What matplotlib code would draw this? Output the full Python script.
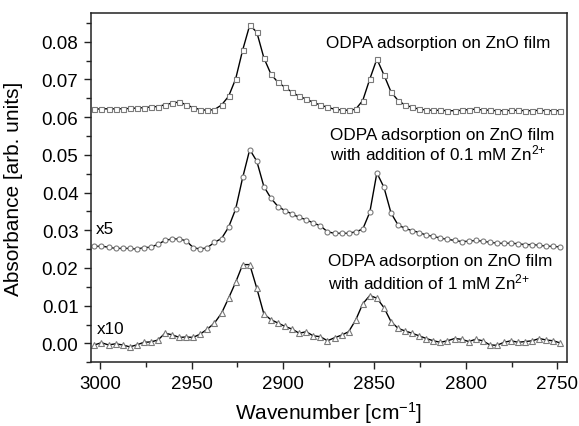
import numpy as np
import matplotlib
matplotlib.use("Agg")
import matplotlib.pyplot as plt
from matplotlib.ticker import MultipleLocator, FormatStrFormatter

plt.rcParams["font.family"] = ["Liberation Sans", "DejaVu Sans"]
plt.rcParams["mathtext.fontset"] = "custom"
plt.rcParams["mathtext.rm"] = "Liberation Sans"
plt.rcParams["mathtext.default"] = "regular"

# wavenumber grid of the plotted points (cm-1)
wavenumber = 3003.1 - 3.86 * np.arange(67)

# ODPA on ZnO film
film = [0.0621, 0.0622, 0.0622, 0.0622, 0.0622, 0.0623, 0.0624, 0.0625, 0.0627, 0.0628,
        0.0633, 0.0637, 0.0640, 0.0633, 0.0625, 0.0620, 0.0618, 0.0620, 0.0632, 0.0655,
        0.0701, 0.0778, 0.0844, 0.0825, 0.0757, 0.0714, 0.0692, 0.0679, 0.0666, 0.0655,
        0.0648, 0.0639, 0.0632, 0.0626, 0.0621, 0.0619, 0.0618, 0.0621, 0.0644, 0.0701,
        0.0754, 0.0712, 0.0667, 0.0644, 0.0632, 0.0626, 0.0621, 0.0619, 0.0618, 0.0618,
        0.0617, 0.0617, 0.0618, 0.0620, 0.0621, 0.0619, 0.0618, 0.0617, 0.0617, 0.0618,
        0.0618, 0.0617, 0.0617, 0.0618, 0.0617, 0.0617, 0.0617]

# with 0.1 mM Zn2+ (x5)
zn_01 = [0.0257, 0.0258, 0.0255, 0.0252, 0.0252, 0.0252, 0.0250, 0.0254, 0.0255, 0.0263,
         0.0273, 0.0277, 0.0277, 0.0272, 0.0254, 0.0250, 0.0254, 0.0268, 0.0278, 0.0308,
         0.0356, 0.0440, 0.0514, 0.0483, 0.0416, 0.0385, 0.0363, 0.0352, 0.0343, 0.0334,
         0.0328, 0.0319, 0.0312, 0.0296, 0.0292, 0.0292, 0.0292, 0.0296, 0.0303, 0.0348,
         0.0452, 0.0414, 0.0346, 0.0314, 0.0305, 0.0299, 0.0294, 0.0287, 0.0284, 0.0279,
         0.0276, 0.0273, 0.0270, 0.0271, 0.0273, 0.0271, 0.0268, 0.0266, 0.0265, 0.0266,
         0.0264, 0.0262, 0.0262, 0.0260, 0.0258, 0.0257, 0.0256]

# with 1 mM Zn2+ (x10)
zn_1 = [-0.0004, 0.0002, -0.0004, -0.0001, -0.0004, -0.0009, -0.0004, 0.0003, 0.0004, 0.0009,
        0.0027, 0.0023, 0.0016, 0.0017, 0.0016, 0.0025, 0.0038, 0.0054, 0.0080, 0.0120,
        0.0162, 0.0209, 0.0209, 0.0146, 0.0078, 0.0063, 0.0054, 0.0045, 0.0038, 0.0027,
        0.0031, 0.0020, 0.0018, 0.0007, 0.0015, 0.0022, 0.0031, 0.0062, 0.0105, 0.0127,
        0.0120, 0.0095, 0.0058, 0.0040, 0.0033, 0.0027, 0.0020, 0.0013, 0.0007, 0.0003,
        0.0007, 0.0013, 0.0011, 0.0005, 0.0011, 0.0007, -0.0004, -0.0005, 0.0003, 0.0007,
        0.0003, 0.0005, 0.0007, 0.0013, 0.0009, 0.0007, 0.0001]

series = [(film, "s"), (zn_01, "o"), (zn_1, "^")]

fig = plt.figure(figsize=(5.79, 4.27), dpi=100)
ax = fig.add_axes([0.157, 0.1492, 0.8216, 0.818])

for values, marker in series:
    ax.plot(wavenumber, values, color="black", lw=1.0, marker=marker,
            ms=3.6 if marker != "^" else 4.3, mfc="white", mec="#7a7a7a", mew=0.8)

ax.set_xlim(3005, 2745)
ax.set_ylim(-0.005, 0.0876)
ax.xaxis.set_major_locator(MultipleLocator(50))
ax.xaxis.set_minor_locator(MultipleLocator(25))
ax.yaxis.set_major_locator(MultipleLocator(0.01))
ax.yaxis.set_minor_locator(MultipleLocator(0.005))
ax.yaxis.set_major_formatter(FormatStrFormatter("%.2f"))
ax.tick_params(which="both", direction="out", top=False, right=False,
               labelsize=13.5, width=1.0, color="#222222")
ax.tick_params(which="major", length=5, pad=4)
ax.tick_params(which="minor", length=3.5)
for sp in ax.spines.values():
    sp.set_linewidth(1.1)
    sp.set_color("#222222")

ax.set_xlabel("Wavenumber [cm$^{-1}$]", fontsize=15)
ax.set_ylabel("Absorbance [arb. units]", fontsize=15)
ax.yaxis.set_label_coords(-0.143, 0.5)
ax.xaxis.set_label_coords(0.5, -0.105)

fs = 12.3
ax.text(2876.5, 0.0799, "ODPA adsorption on ZnO film", fontsize=fs, ha="left", va="center")
ax.text(2874.5, 0.0555, "ODPA adsorption on ZnO film", fontsize=fs, ha="left", va="center")
ax.text(2874.5, 0.0505, "with addition of 0.1 mM Zn$^{2{+}}$", fontsize=fs, ha="left", va="center")
ax.text(2875.5, 0.0219, "ODPA adsorption on ZnO film", fontsize=fs, ha="left", va="center")
ax.text(2875.5, 0.0165, "with addition of 1 mM Zn$^{2{+}}$", fontsize=fs, ha="left", va="center")
ax.text(3002.5, 0.0305, "x5", fontsize=fs, ha="left", va="center")
ax.text(3002, 0.0040, "x10", fontsize=fs, ha="left", va="center")

fig.savefig("out.png", dpi=100)
